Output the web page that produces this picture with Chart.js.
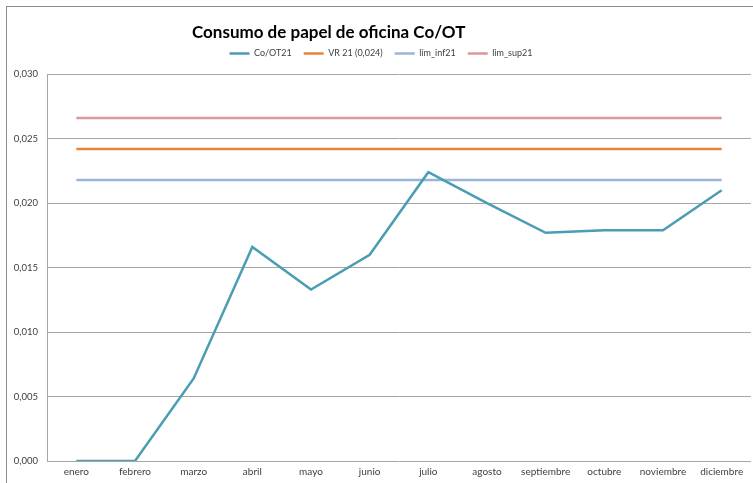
<!DOCTYPE html>
<html>
<head>
<meta charset="utf-8">
<script src="https://cdn.jsdelivr.net/npm/chart.js@4.4.1/dist/chart.umd.min.js"></script>
<style>
  html, body { margin: 0; padding: 0; background: #fff; }
  #wrap { position: relative; width: 753px; height: 483px; overflow: hidden; }
  #frame { position: absolute; left: 6px; top: 6px; width: 760px; height: 490px;
           border-left: 1px solid #8c8c8c; border-top: 1px solid #8c8c8c; }
  #title { position: absolute; left: 192px; top: 21px; font: bold 17px Lato, sans-serif;
           color: #000; white-space: nowrap; }
  canvas { position: absolute; left: 0; top: 0; }
</style>
</head>
<body>
<div id="wrap">
  <div id="frame"></div>
  <canvas id="myChart" width="753" height="483"></canvas>
  <div id="title">Consumo de papel de oficina Co/OT</div>
</div>
<script>
const meses = ['enero', 'febrero', 'marzo', 'abril', 'mayo', 'junio', 'julio',
  'agosto', 'septiembre', 'octubre', 'noviembre', 'diciembre'];
const coOT21 = [0, 0, 0.0064, 0.0166, 0.0133, 0.0160, 0.0224, 0.0200, 0.0177, 0.0179, 0.0179, 0.0210];
const vr21 = [0.0242, 0.0242, 0.0242, 0.0242, 0.0242, 0.0242, 0.0242, 0.0242, 0.0242, 0.0242, 0.0242, 0.0242];
const limInf21 = [0.0218, 0.0218, 0.0218, 0.0218, 0.0218, 0.0218, 0.0218, 0.0218, 0.0218, 0.0218, 0.0218, 0.0218];
const limSup21 = [0.0266, 0.0266, 0.0266, 0.0266, 0.0266, 0.0266, 0.0266, 0.0266, 0.0266, 0.0266, 0.0266, 0.0266];
const yTicks = [0, 0.005, 0.010, 0.015, 0.020, 0.025, 0.030];

const ctx = document.getElementById('myChart');

function serie(label, data, color) {
  return {
    label: label,
    data: data,
    borderColor: color,
    backgroundColor: color,
    borderWidth: 2.5,
    pointRadius: 0,
    pointHoverRadius: 0,
    fill: false,
    tension: 0
  };
}

new Chart(ctx, {
  type: 'line',
  data: {
    labels: meses,
    datasets: [
      serie('Co/OT21', coOT21, '#4A9DB3'),
      serie('VR 21 (0,024)', vr21, '#E9843E'),
      serie('lim_inf21', limInf21, '#9AB4DA'),
      serie('lim_sup21', limSup21, '#D9999A')
    ]
  },
  options: {
    responsive: false,
    animation: false,
    layout: { padding: { left: 11, right: 2, top: 37, bottom: 0 } },
    plugins: {
      title: { display: false },
      // empty subtitle used as a spacer between legend and plot
      subtitle: { display: true, text: '', font: { size: 1 }, padding: { top: 0, bottom: 5 } },
      tooltip: { enabled: false },
      legend: {
        position: 'top',
        weight: 1600,
        labels: {
          usePointStyle: true,
          pointStyle: 'line',
          pointStyleWidth: 20,
          padding: 12,
          color: '#404040',
          font: { family: 'Lato, sans-serif', size: 9 }
        }
      }
    },
    scales: {
      x: {
        offset: true,
        grid: { display: false, drawTicks: false },
        border: { display: false },
        ticks: {
          color: '#404040',
          padding: 5,
          maxRotation: 0,
          autoSkip: false,
          font: { family: 'Lato, sans-serif', size: 10 }
        }
      },
      y: {
        min: 0,
        max: 0.03,
        afterFit: function (s) { s.width = 36; },
        afterBuildTicks: function (s) { s.ticks = yTicks.map(v => ({ value: v })); },
        grid: { color: '#A6A6A6', lineWidth: 1, drawTicks: false },
        border: { color: '#A6A6A6', width: 1 },
        ticks: {
          color: '#404040',
          padding: 9,
          font: { family: 'Lato, sans-serif', size: 9.5 },
          callback: function (v) { return v.toFixed(3).replace('.', ','); }
        }
      }
    }
  }
});
</script>
</body>
</html>
